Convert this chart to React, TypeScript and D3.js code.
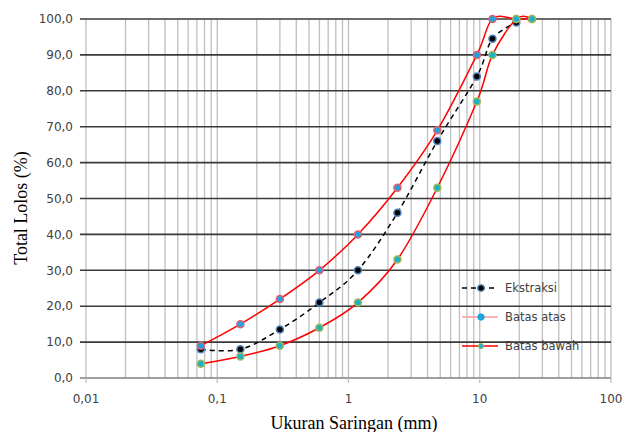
import React from "react";
import * as d3 from "d3";

const sieveSizes = [0.075, 0.15, 0.3, 0.6, 1.18, 2.36, 4.75, 9.5, 12.5, 19, 25];
const ekstraksi = [8, 8, 13.5, 21, 30, 46, 66, 84, 94.5, 99, null];
const batasAtas = [9, 15, 22, 30, 40, 53, 69, 90, 100, 100, 100];
const batasBawah = [4, 6, 9, 14, 21, 33, 53, 77, 90, 100, 100];
const xTicks = [0.01, 0.1, 1, 10, 100];
const xTickLabels = ["0,01", "0,1", "1", "10", "100"];
const yTicks = [0, 10, 20, 30, 40, 50, 60, 70, 80, 90, 100];
const legendLabels = ["Ekstraksi", "Batas atas", "Batas bawah"];

const W = 623;
const H = 432;

export default function App() {
  const x = d3.scaleLog().domain([0.01, 100]).range([86, 611]);
  const y = d3.scaleLinear().domain([0, 100]).range([378, 19]);

  const minor: number[] = [];
  for (const d of [0.01, 0.1, 1, 10]) {
    for (let k = 1; k <= 9; k++) minor.push(d * k);
  }
  minor.push(100);

  const mk = (vals: (number | null)[]) =>
    sieveSizes
      .map((s, i) => ({ s, v: vals[i] }))
      .filter((p) => p.v !== null) as { s: number; v: number }[];

  const line = d3
    .line<{ s: number; v: number }>()
    .x((d) => x(d.s))
    .y((d) => y(d.v))
    .curve(d3.curveCardinal.tension(0));

  const ek = mk(ekstraksi);
  const at = mk(batasAtas);
  const bw = mk(batasBawah);

  const font = "'DejaVu Sans', sans-serif";
  const serif = "'Liberation Serif', 'Times New Roman', serif";

  const legendY = [288, 317, 346];

  return (
    <svg
      width={W}
      height={H}
      style={{ position: "absolute", left: 0, top: 0, background: "#fff" }}
    >
      <rect x={0} y={0} width={W} height={H} fill="#fff" />
      {/* vertical gridlines */}
      {minor.map((v, i) => (
        <line
          key={"v" + i}
          x1={x(v)}
          x2={x(v)}
          y1={y(100)}
          y2={y(0)}
          stroke="#bfbfbf"
          strokeWidth={1.3}
        />
      ))}
      {/* horizontal gridlines */}
      {yTicks.map((t) => (
        <line
          key={"h" + t}
          x1={80}
          x2={611}
          y1={y(t)}
          y2={y(t)}
          stroke={t === 0 ? "#7f7f7f" : "#3a3a3a"}
          strokeWidth={1.6}
        />
      ))}
      {/* x ticks */}
      {xTicks.map((t) => (
        <line
          key={"xt" + t}
          x1={x(t)}
          x2={x(t)}
          y1={y(0)}
          y2={y(0) + 5}
          stroke="#bfbfbf"
          strokeWidth={1.3}
        />
      ))}
      {/* y tick labels */}
      {yTicks.map((t) => (
        <text
          key={"yl" + t}
          x={73}
          y={y(t)}
          dy="0.35em"
          textAnchor="end"
          fontFamily={font}
          fontSize={12}
          fill="#404040"
        >
          {t.toFixed(1).replace(".", ",")}
        </text>
      ))}
      {/* x tick labels */}
      {xTicks.map((t, i) => (
        <text
          key={"xl" + t}
          x={x(t)}
          y={403}
          textAnchor="middle"
          fontFamily={font}
          fontSize={12}
          fill="#404040"
        >
          {xTickLabels[i]}
        </text>
      ))}
      {/* axis titles */}
      <text
        x={354}
        y={429}
        textAnchor="middle"
        fontFamily={serif}
        fontSize={18}
        fill="#000"
      >
        Ukuran Saringan (mm)
      </text>
      <text
        transform={`translate(27,208) rotate(-90)`}
        textAnchor="middle"
        fontFamily={serif}
        fontSize={18}
        fill="#000"
      >
        Total Lolos (%)
      </text>

      {/* series lines */}
      <path
        d={line(ek) || ""}
        fill="none"
        stroke="#000"
        strokeWidth={1.5}
        strokeDasharray="5,4"
      />
      {ek.map((p, i) => (
        <circle
          key={"ek" + i}
          cx={x(p.s)}
          cy={y(p.v)}
          r={3.5}
          fill="#000"
          stroke="#4f81bd"
          strokeWidth={1.5}
        />
      ))}
      <path d={line(at) || ""} fill="none" stroke="#ff0000" strokeWidth={1.5} />
      {at.map((p, i) => (
        <circle
          key={"at" + i}
          cx={x(p.s)}
          cy={y(p.v)}
          r={3.5}
          fill="#1fa3e0"
          stroke="#e06070"
          strokeWidth={1.5}
        />
      ))}
      <path d={line(bw) || ""} fill="none" stroke="#ff0000" strokeWidth={1.5} />
      {bw.map((p, i) => (
        <circle
          key={"bw" + i}
          cx={x(p.s)}
          cy={y(p.v)}
          r={3.5}
          fill="#1fb0c8"
          stroke="#9bbb59"
          strokeWidth={1.5}
        />
      ))}

      {/* legend */}
      <g>
        <line x1={462} x2={498} y1={legendY[0]} y2={legendY[0]} stroke="#000" strokeWidth={1.5} strokeDasharray="5,4" />
        <circle cx={481} cy={legendY[0]} r={3.2} fill="#000" stroke="#4f81bd" strokeWidth={1.2} />
        <line x1={462} x2={498} y1={legendY[1]} y2={legendY[1]} stroke="#ff9a9a" strokeWidth={1.5} />
        <circle cx={481} cy={legendY[1]} r={3.2} fill="#1fa3e0" stroke="#1fa3e0" strokeWidth={1} />
        <line x1={462} x2={498} y1={legendY[2]} y2={legendY[2]} stroke="#ff0000" strokeWidth={1.5} />
        <circle cx={481} cy={legendY[2]} r={2.6} fill="#1fb0c8" stroke="#9bbb59" strokeWidth={1} />
        {legendLabels.map((l, i) => (
          <text
            key={l}
            x={505}
            y={legendY[i]}
            dy="0.35em"
            fontFamily={font}
            fontSize={11.5}
            fill="#404040"
          >
            {l}
          </text>
        ))}
      </g>
    </svg>
  );
}
